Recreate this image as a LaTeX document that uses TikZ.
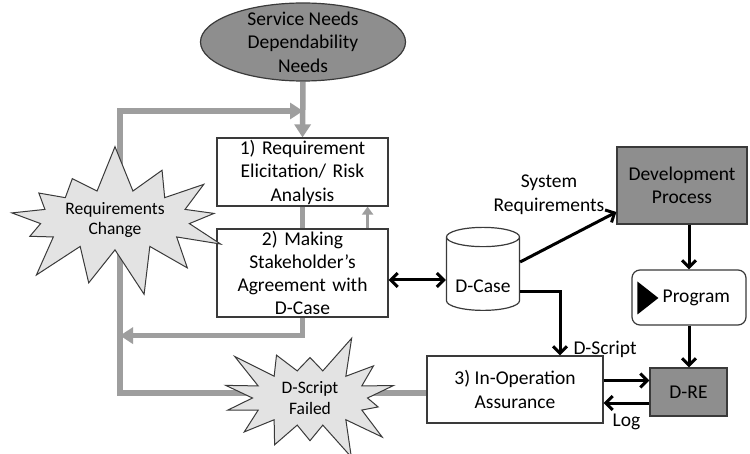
\documentclass[tikz,border=0pt]{standalone}
\usepackage{fontspec}
\setmainfont{Carlito}
\usetikzlibrary{arrows.meta,shapes.geometric,shapes.symbols,backgrounds}
\definecolor{needfill}{HTML}{8E8E8E}
\definecolor{burstfill}{HTML}{E3E3E3}
\definecolor{flowgray}{HTML}{9E9E9E}
\definecolor{edgegray}{HTML}{3A3A3A}
\newcommand\mainsize{\fontsize{19.5}{23.5}\selectfont}
\newcommand\burstsize{\fontsize{17.5}{20.5}\selectfont}

\begin{document}
\begin{tikzpicture}[x=1pt,y=-1pt,font=\mainsize,
  box/.style={draw=edgegray,line width=1.2pt,fill=white,align=center,inner sep=0pt},
  darkbox/.style={box,fill=needfill},
  burst/.style={starburst,draw=edgegray,line width=1pt,fill=burstfill,align=center,
    font=\burstsize,starburst points=13,starburst point height=48pt,random starburst=7},
  flow/.style={draw=flowgray,line width=5.5pt},
  flowtip/.style={-{Triangle[length=13pt,width=16pt]}},
  blk/.style={line width=3pt,-{Straight Barb[length=7pt,width=14pt]}},
  lbl/.style={inner sep=1pt}]

\useasboundingbox (0,0) rectangle (750,454);

\node[ellipse,draw=edgegray,line width=1.2pt,fill=needfill,align=center,inner xsep=0pt,
  inner ysep=-10pt,minimum width=205pt,minimum height=78pt] (needs) at (303,42)
  {Service Needs\\Dependability\\Needs};
\node[box,minimum width=171pt,minimum height=68pt,text width=165pt] (req) at (302.5,172)
  {1) Requirement\\Elicitation/ Risk\\Analysis};
\node[box,minimum width=171pt,minimum height=88pt,text width=165pt,
  font=\fontsize{19.5}{23}\selectfont] (agree) at (302.5,273)
  {2) Making\\Stakeholder’s\\Agreement with\\D-Case};
\node[cylinder,shape border rotate=90,draw=edgegray,line width=1.2pt,fill=white,aspect=0.35,
  minimum width=73pt,minimum height=83pt,inner sep=0pt] (dcase) at (483,274)
  {\raisebox{-19pt}[0pt][0pt]{D-Case}};
\node[darkbox,minimum width=130pt,minimum height=77pt] (dev) at (682,185.5) {Development\\Process};
\node[box,rounded corners=8pt,minimum width=114pt,minimum height=55pt,text width=82pt,
  inner xsep=16pt,align=right] (prog) at (689,297.5) {Program};
\node[darkbox,minimum width=77pt,minimum height=48pt] (dre) at (688.5,392) {D-RE};
\node[box,minimum width=176pt,minimum height=67pt] (oper) at (515,389.5) {3) In-Operation\\Assurance};

\node[burst,minimum width=204pt,minimum height=140pt] (reqchg) at (115,220) {Requirements\\Change};
\node[burst,starburst points=14,starburst point height=40pt,random starburst=3,
  minimum width=195pt,minimum height=103pt] (failed) at (310,398) {D-Script\\Failed};

\fill (prog.west) ++(6,-16) -- ++(0,33) -- ++(21,-16.5) -- cycle;

\begin{scope}[on background layer]
\fill[white] (0,0) rectangle (750,454);
\coordinate (corner) at (120,111);
\coordinate (join) at (needs.south |- corner);
\draw[flow,flowtip] (needs.south) -- (req.north);
\draw[flow] (req.south) -- (agree.north);
\draw[flow,flowtip] (agree.south) -- ++(0,18) coordinate (back) -- (back -| corner);
\draw[flow,flowtip] ([yshift=-3.5pt]oper.west) -| (corner) -- (join);
\draw[flow,line width=3.5pt,-{Triangle[length=8pt,width=11pt]}]
  ([xshift=-21pt]agree.north east) -- ([xshift=-21pt]req.south east);
\end{scope}

\draw[blk,{Straight Barb[length=7pt,width=14pt]}-{Straight Barb[length=7pt,width=14pt]}]
  ([yshift=-7pt]agree.east) -- ([yshift=-7pt]agree.east -| dcase.west);
\draw[blk] ([yshift=12pt]dcase.east) -- ([yshift=-26.5pt]dev.west)
  node[pos=0.9,anchor=south east,align=center,lbl] {System\\Requirements};
\draw[blk] ([yshift=-18pt]dcase.east) -| ([xshift=45pt]oper.north)
  node[pos=0.95,right=11pt,lbl] {D-Script};
\draw[blk] (dev.south -| prog.north) -- (prog.north);
\draw[blk] (prog.south) -- (prog.south |- dre.north);
\draw[blk] ([yshift=9pt]oper.east) -- ([yshift=9pt]oper.east -| dre.west);
\draw[blk] ([yshift=-13.5pt]oper.east -| dre.west) -- ([yshift=-13.5pt]oper.east)
  node[midway,below=8pt,lbl] {Log};

\end{tikzpicture}
\end{document}
